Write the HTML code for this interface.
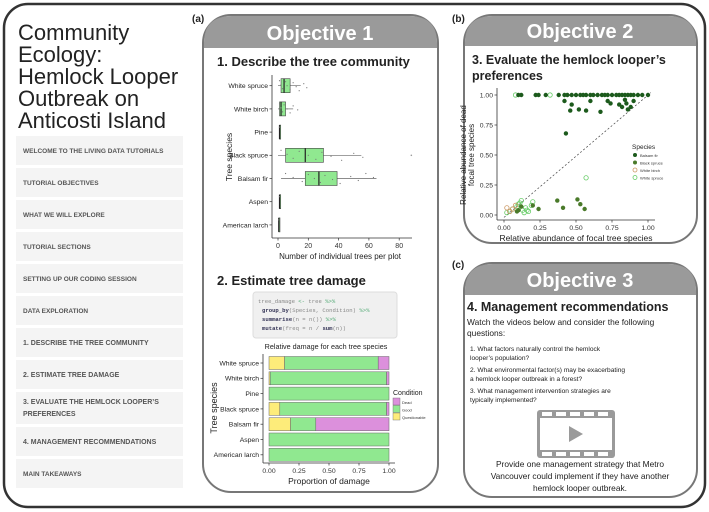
<!DOCTYPE html>
<html><head><meta charset="utf-8">
<style>
html,body{margin:0;padding:0;background:#fff;}
svg{display:block;font-family:"Liberation Sans",sans-serif;}
.mono{font-family:"Liberation Mono",monospace;}
</style></head>
<body>
<svg id="fig" width="709" height="512" viewBox="0 0 709 512" xmlns="http://www.w3.org/2000/svg">
<rect x="4" y="4" width="701" height="503" rx="24" fill="#fff" stroke="#333" stroke-width="2.5"/>

<!-- Sidebar -->
<g>
<text x="18" y="40" font-size="22" fill="#222">Community</text>
<text x="18" y="62" font-size="22" fill="#222">Ecology:</text>
<text x="18" y="84" font-size="22" fill="#222">Hemlock Looper</text>
<text x="18" y="106" font-size="22" fill="#222">Outbreak on</text>
<text x="18" y="128" font-size="22" fill="#222">Anticosti Island</text>
<g id="menu"></g>
</g>

<!-- Panel a -->
<text x="192" y="22" font-size="10" font-weight="bold" fill="#222">(a)</text>
<g>
<rect x="203" y="15" width="235" height="477" rx="28" fill="#fff" stroke="#777" stroke-width="2"/>
<path d="M204,48 L204,43 Q204,16 232,16 L409,16 Q437,16 437,43 L437,48 Z" fill="#9a9a9a"/>
<text x="320" y="40" font-size="20" font-weight="bold" fill="#fff" text-anchor="middle">Objective 1</text>
<text x="217" y="66" font-size="13" font-weight="bold" fill="#222">1. Describe the tree community</text>
<g id="boxplot"></g>
<text x="217" y="285" font-size="13" font-weight="bold" fill="#222">2. Estimate tree damage</text>
<rect x="253" y="292" width="144" height="46" rx="3" fill="#f0f0f0" stroke="#ddd"/>
<g class="mono" font-size="5.6">
<text x="258" y="303" fill="#888">tree_damage <tspan fill="#5a7">&lt;-</tspan> tree <tspan fill="#5a7">%&gt;%</tspan></text>
<text x="262" y="312" fill="#888"><tspan fill="#335" font-weight="bold">group_by</tspan>(Species, Condition) <tspan fill="#5a7">%&gt;%</tspan></text>
<text x="262" y="321" fill="#888"><tspan fill="#335" font-weight="bold">summarise</tspan>(n = n()) <tspan fill="#5a7">%&gt;%</tspan></text>
<text x="262" y="330" fill="#888"><tspan fill="#335" font-weight="bold">mutate</tspan>(freq = n / <tspan fill="#335" font-weight="bold">sum</tspan>(n))</text>
</g>
<text x="326" y="349" font-size="7.2" fill="#222" text-anchor="middle">Relative damage for each tree species</text>
<g id="barchart"></g>
</g>

<!-- Panel b -->
<text x="452" y="22" font-size="10" font-weight="bold" fill="#222">(b)</text>
<g>
<rect x="464" y="15" width="233" height="228" rx="28" fill="#fff" stroke="#777" stroke-width="2"/>
<path d="M465,46 L465,43 Q465,16 493,16 L668,16 Q696,16 696,43 L696,46 Z" fill="#9a9a9a"/>
<text x="580" y="38" font-size="20" font-weight="bold" fill="#fff" text-anchor="middle">Objective 2</text>
<text x="472" y="64" font-size="12.5" font-weight="bold" fill="#222">3. Evaluate the hemlock looper’s</text>
<text x="472" y="80" font-size="12.5" font-weight="bold" fill="#222">preferences</text>
<g id="scatter"></g>
</g>

<!-- Panel c -->
<text x="452" y="268" font-size="10" font-weight="bold" fill="#222">(c)</text>
<g>
<rect x="464" y="263" width="233" height="234" rx="28" fill="#fff" stroke="#777" stroke-width="2"/>
<path d="M465,295 L465,291 Q465,264 493,264 L668,264 Q696,264 696,291 L696,295 Z" fill="#9a9a9a"/>
<text x="580" y="287" font-size="20" font-weight="bold" fill="#fff" text-anchor="middle">Objective 3</text>
<text x="467" y="311" font-size="12.5" font-weight="bold" fill="#222">4. Management recommendations</text>
<text x="467" y="325" font-size="8.4" fill="#222">Watch the videos below and consider the following</text>
<text x="467" y="336" font-size="8.4" fill="#222">questions:</text>
<g font-size="6.6" fill="#222">
<text x="470" y="351">1. What factors naturally control the hemlock</text>
<text x="470" y="360">looper’s population?</text>
<text x="470" y="372">2. What environmental factor(s) may be exacerbating</text>
<text x="470" y="381">a hemlock looper outbreak in a forest?</text>
<text x="470" y="393">3. What management intervention strategies are</text>
<text x="470" y="402">typically implemented?</text>
</g>
<g>
<rect x="537" y="410" width="78" height="48" rx="3" fill="#9a9a9a"/>
<rect x="540" y="418" width="72" height="32" fill="#fff"/>
<rect x="542" y="412" width="10" height="4" fill="#fff"/><rect x="556" y="412" width="10" height="4" fill="#fff"/><rect x="570" y="412" width="10" height="4" fill="#fff"/><rect x="584" y="412" width="10" height="4" fill="#fff"/><rect x="598" y="412" width="10" height="4" fill="#fff"/>
<rect x="542" y="452" width="10" height="4" fill="#fff"/><rect x="556" y="452" width="10" height="4" fill="#fff"/><rect x="570" y="452" width="10" height="4" fill="#fff"/><rect x="584" y="452" width="10" height="4" fill="#fff"/><rect x="598" y="452" width="10" height="4" fill="#fff"/>
<path d="M569,426 L569,442 L583,434 Z" fill="#9a9a9a"/>
</g>
<g font-size="8.4" fill="#222" text-anchor="middle">
<text x="580" y="467">Provide one management strategy that Metro</text>
<text x="580" y="479">Vancouver could implement if they have another</text>
<text x="580" y="491">hemlock looper outbreak.</text>
</g>
</g>
</svg>
<script>
const NS='http://www.w3.org/2000/svg';
function mk(parent,tag,attrs,txt){const e=document.createElementNS(NS,tag);for(const k in attrs)e.setAttribute(k,attrs[k]);if(txt!==undefined)e.textContent=txt;parent.appendChild(e);return e;}

// ---------- Sidebar menu ----------
const menuItems=["WELCOME TO THE LIVING DATA TUTORIALS","TUTORIAL OBJECTIVES","WHAT WE WILL EXPLORE","TUTORIAL SECTIONS","SETTING UP OUR CODING SESSION","DATA EXPLORATION","1. DESCRIBE THE TREE COMMUNITY","2. ESTIMATE TREE DAMAGE","3. EVALUATE THE HEMLOCK LOOPER’S|PREFERENCES","4. MANAGEMENT RECOMMENDATIONS","MAIN TAKEAWAYS"];
(function(){
  const g=document.getElementById('menu');let y=136;
  menuItems.forEach((t,i)=>{
    const lines=t.split('|');const h=lines.length>1?32:29;
    const r=mk(g,'rect',{x:16,y:y,width:167,height:h,fill:'#f4f4f4'});
    
    
    const bold=(i>=6&&i<=9);
    lines.forEach((l,j)=>{
      const tx=mk(g,'text',{x:23,y:(lines.length>1? y+12+j*12 : y+h/2+2.5),'font-size':bold?7:6.5,'font-weight':bold?'900':'bold',fill:'#555'},l);
      
      
    });
    y+=h+3;
  });
})();

// ---------- Boxplot ----------
const boxSpecies=["White spruce","White birch","Pine","Black spruce","Balsam fir","Aspen","American larch"];
const boxQ1=[2,1,1,5,18,1,0.5];
const boxMed=[4,2,1,18,27,1,0.5];
const boxQ3=[8,5,1,30,39,1.5,0.5];
const boxLo=[0,0,1,0,2,1,0.5];
const boxHi=[15,10,1,55,65,1.5,0.5];
const boxOut=[[],[],[],[88],[],[],[]];
const boxPts=[[1,2,3,5,6,8,10,12,14,17,19],[1,2,3,4,6,8,10,13],[1],[2,6,10,14,20,25,29,35,42,50,56],[5,10,16,20,24,28,31,36,41,48,53,58,63],[1],[0.5]];
const boxTicks=[0,20,40,60,80];
(function(){
  const g=document.getElementById('boxplot');
  const x=v=>278+v*1.515; const y=i=>85.7+i*23.2;
  mk(g,'line',{x1:272,y1:75,x2:272,y2:238,stroke:'#333','stroke-width':0.8});
  mk(g,'line',{x1:272,y1:238,x2:412,y2:238,stroke:'#333','stroke-width':0.8});
  boxTicks.forEach(t=>{mk(g,'line',{x1:x(t),y1:238,x2:x(t),y2:240.5,stroke:'#333','stroke-width':0.7});
    const tt=mk(g,'text',{x:x(t),y:248,'font-size':7,'text-anchor':'middle',fill:'#333'},t);
    });
  const xt=mk(g,'text',{x:340,y:259,'font-size':8,'text-anchor':'middle',fill:'#222'},'Number of individual trees per plot');
  
  const yt=mk(g,'text',{x:0,y:0,'font-size':8.5,'text-anchor':'middle',fill:'#222',transform:'translate(232,157) rotate(-90)'},'Tree species');
  
  boxSpecies.forEach((s,i)=>{
    const cy=y(i);
    mk(g,'line',{x1:269.5,y1:cy,x2:272,y2:cy,stroke:'#333','stroke-width':0.7});
    const lb=mk(g,'text',{x:268,y:cy+2.4,'font-size':6.8,'text-anchor':'end',fill:'#222'},s);
    
    mk(g,'line',{x1:x(boxLo[i]),y1:cy,x2:x(boxHi[i]),y2:cy,stroke:'#666','stroke-width':0.7});
    const b=mk(g,'rect',{x:x(boxQ1[i]),y:cy-7,width:Math.max(1.2,x(boxQ3[i])-x(boxQ1[i])),height:14,fill:'#90e890',stroke:'#444','stroke-width':0.6});
    
    
    mk(g,'line',{x1:x(boxMed[i]),y1:cy-7,x2:x(boxMed[i]),y2:cy+7,stroke:'#222','stroke-width':1.2});
    boxOut[i].forEach(v=>mk(g,'circle',{cx:x(v),cy:cy,r:0.8,fill:'#999'}));
    boxPts[i].forEach((v,k)=>{const p=mk(g,'circle',{cx:x(v),cy:cy+((k*37)%11-5),r:0.6,fill:'#777'});
      });
  });
})();

// ---------- Damage bar chart ----------
const barSpecies=["White spruce","White birch","Pine","Black spruce","Balsam fir","Aspen","American larch"];
const barQuestionable=[0.13,0.01,0,0.09,0.18,0,0];
const barGood=[0.78,0.97,1,0.89,0.21,1,1];
const barDead=[0.09,0.02,0,0.02,0.61,0,0];
const barTicks=["0.00","0.25","0.50","0.75","1.00"];
(function(){
  const g=document.getElementById('barchart');
  const x=v=>269+v*120; const y=i=>363+i*15.3;
  mk(g,'line',{x1:263,y1:354,x2:263,y2:463,stroke:'#333','stroke-width':0.8});
  mk(g,'line',{x1:263,y1:463,x2:395,y2:463,stroke:'#333','stroke-width':0.8});
  barTicks.forEach(t=>{const v=parseFloat(t);mk(g,'line',{x1:x(v),y1:463,x2:x(v),y2:465.5,stroke:'#333','stroke-width':0.7});
    const tt=mk(g,'text',{x:x(v),y:473,'font-size':6.8,'text-anchor':'middle',fill:'#333'},t);
    });
  const xt=mk(g,'text',{x:329,y:484,'font-size':8.5,'text-anchor':'middle',fill:'#222'},'Proportion of damage');
  
  const yt=mk(g,'text',{x:0,y:0,'font-size':9,'text-anchor':'middle',fill:'#222',transform:'translate(217,408) rotate(-90)'},'Tree species');
  
  const cols={q:'#fdec7a',g:'#90e890',d:'#dc90dc'};
  barSpecies.forEach((s,i)=>{
    const cy=y(i);
    mk(g,'line',{x1:260.5,y1:cy,x2:263,y2:cy,stroke:'#333','stroke-width':0.7});
    const lb=mk(g,'text',{x:259,y:cy+2.4,'font-size':6.8,'text-anchor':'end',fill:'#222'},s);
    
    let acc=0;
    [['q',barQuestionable[i]],['g',barGood[i]],['d',barDead[i]]].forEach(([k,v])=>{
      if(v<=0)return;
      const r=mk(g,'rect',{x:x(acc),y:cy-6.5,width:v*120,height:13,fill:cols[k],stroke:'#666','stroke-width':0.5});
      
      
      acc+=v;
    });
  });
  const lt=mk(g,'text',{x:393,y:395,'font-size':7,fill:'#222'},'Condition');
  
  [['d','Dead'],['g','Good'],['q','Questionable']].forEach(([k,l],j)=>{
    mk(g,'rect',{x:393,y:398+j*7.5,width:7,height:7,fill:cols[k],stroke:'#666','stroke-width':0.4});
    const le=mk(g,'text',{x:402,y:404+j*7.5,'font-size':4,fill:'#333'},l);
    
  });
})();

// ---------- Scatter ----------
const balsamX=[0.1,0.12,0.22,0.24,0.29,0.38,0.42,0.44,0.47,0.5,0.53,0.55,0.57,0.6,0.62,0.65,0.68,0.7,0.72,0.75,0.78,0.8,0.82,0.84,0.86,0.88,0.9,0.93,0.96,1.0,0.42,0.47,0.46,0.52,0.57,0.43,0.6,0.67,0.72,0.74,0.8,0.82,0.84,0.86,0.88,0.85,0.9];
const balsamY=[1,1,1,1,1,1,1,1,1,1,1,1,1,1,1,1,1,1,1,1,1,1,1,1,1,1,1,1,1,1,0.95,0.92,0.87,0.88,0.87,0.68,0.95,0.86,0.95,0.93,0.92,0.9,0.96,0.88,0.9,0.93,0.95];
const blackX=[0.37,0.41,0.51,0.53,0.56,0.1,0.2,0.24,0.12,0.09];
const blackY=[0.12,0.06,0.13,0.09,0.05,0.04,0.08,0.05,0.07,0.03];
const birchX=[0.02,0.04,0.06,0.08];
const birchY=[0.06,0.03,0.05,0.08];
const whiteX=[0.08,0.32,0.57,0.02,0.04,0.06,0.09,0.11,0.13,0.15,0.17,0.19,0.2,0.1,0.14,0.16,0.12];
const whiteY=[1,1,0.31,0.02,0.03,0.05,0.07,0.1,0.04,0.06,0.03,0.08,0.11,0.09,0.02,0.04,0.12];
const scatTicks=["0.00","0.25","0.50","0.75","1.00"];
(function(){
  const g=document.getElementById('scatter');
  const x=v=>504+v*144; const y=v=>215-v*120;
  mk(g,'line',{x1:497,y1:88,x2:497,y2:220,stroke:'#333','stroke-width':0.8});
  mk(g,'line',{x1:497,y1:220,x2:655,y2:220,stroke:'#333','stroke-width':0.8});
  mk(g,'line',{x1:x(0),y1:y(-0.02),x2:x(1.02),y2:y(1.02),stroke:'#444','stroke-width':0.7,'stroke-dasharray':'2,2'});
  scatTicks.forEach(t=>{const v=parseFloat(t);
    mk(g,'line',{x1:x(v),y1:220,x2:x(v),y2:222.5,stroke:'#333','stroke-width':0.7});
    const tx=mk(g,'text',{x:x(v),y:230,'font-size':6.8,'text-anchor':'middle',fill:'#333'},t);
    
    mk(g,'line',{x1:494.5,y1:y(v),x2:497,y2:y(v),stroke:'#333','stroke-width':0.7});
    const ty=mk(g,'text',{x:493,y:y(v)+2.4,'font-size':6.8,'text-anchor':'end',fill:'#333'},t);
    
  });
  const xt=mk(g,'text',{x:576,y:241,'font-size':8.5,'text-anchor':'middle',fill:'#222'},'Relative abundance of focal tree species');
  
  const yt=mk(g,'text',{x:0,y:0,'font-size':8,'text-anchor':'middle',fill:'#222',transform:'translate(466,155) rotate(-90)'},'Relative abundance of dead');
  
  const yt2=mk(g,'text',{x:0,y:0,'font-size':8,'text-anchor':'middle',fill:'#222',transform:'translate(474,155) rotate(-90)'},'focal tree species');
  
  const series=[[whiteX,whiteY,'none','#6c6','white-spruce'],[birchX,birchY,'none','#c96','white-birch'],[blackX,blackY,'#4a7a2a','none','black-spruce'],[balsamX,balsamY,'#1c5a1c','none','balsam-fir']];
  series.forEach(([xs,ys,f,s,n])=>{xs.forEach((v,i)=>{
    const c=mk(g,'circle',{cx:x(v),cy:y(ys[i]),r:2.2,fill:f,stroke:s,'stroke-width':0.8});
    
    
  });});
  const lt=mk(g,'text',{x:632,y:149,'font-size':6.5,fill:'#222'},'Species');
  
  [['#1c5a1c','none','Balsam fir'],['#4a7a2a','none','Black spruce'],['none','#c96','White birch'],['none','#6c6','White spruce']].forEach(([f,s,l],j)=>{
    mk(g,'circle',{cx:635,cy:155+j*7.5,r:2,fill:f,stroke:s,'stroke-width':0.8});
    const le=mk(g,'text',{x:640,y:157+j*7.5,'font-size':4,fill:'#333'},l);
    
  });
})();
</script>
</body></html>
